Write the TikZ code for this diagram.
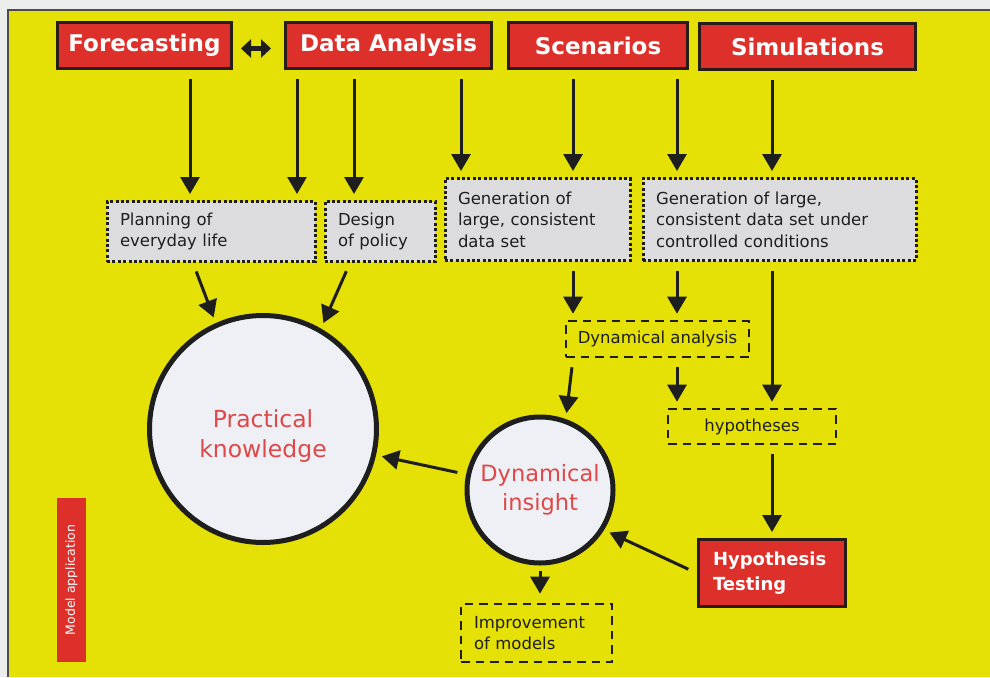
\documentclass[tikz,border=0pt]{standalone}
\usepackage{fontspec}
\setmainfont{DejaVu Sans}
\usetikzlibrary{arrows.meta}
\definecolor{bgyel}{RGB}{229,224,6}
\definecolor{outergray}{RGB}{236,238,238}
\definecolor{boxred}{RGB}{222,48,42}
\definecolor{boxedge}{RGB}{40,28,24}
\definecolor{boxgray}{RGB}{220,220,222}
\definecolor{circfill}{RGB}{238,240,245}
\definecolor{circred}{RGB}{222,72,72}
\definecolor{ink}{RGB}{30,30,30}
\begin{document}
\begin{tikzpicture}[x=1pt,y=-1pt,
  redbox/.style={draw=boxedge, line width=3pt, fill=boxred, text=white, font=\bfseries\fontsize{23}{27}\selectfont, inner sep=0pt},
  graybox/.style={draw=ink, fill=boxgray, line width=3pt, dash pattern=on 3pt off 2.4pt, align=left, inner xsep=13pt, inner ysep=0pt, font=\fontsize{16.5}{21.5}\selectfont, text=ink},
  dashbox/.style={draw=ink, line width=2.6pt, dash pattern=on 8.5pt off 6pt, font=\fontsize{16.5}{21.5}\selectfont, text=ink, inner sep=0pt},
  bigcirc/.style={circle, draw=ink, line width=5pt, fill=circfill, text=circred, align=center, inner sep=0pt},
  arr/.style={draw=ink, line width=3pt, -{Triangle[length=17pt,width=19pt]}, shorten <=9pt, shorten >=6pt}
]
\useasboundingbox (0,0) rectangle (990,677);
\fill[outergray] (0,0) rectangle (990,677);
\fill[bgyel] (8,10) rectangle (990,677);
\draw[gray!60!black, line width=1.2pt] (8,677) -- (8,10) -- (990,10);

% top red boxes
\node[redbox, minimum width=174, minimum height=46] (fc) at (144.5,45.5) {Forecasting};
\node[redbox, minimum width=206, minimum height=46] (da) at (388.5,45.5) {Data Analysis};
\node[redbox, minimum width=179, minimum height=46] (sc) at (598,45.5) {Scenarios};
\node[redbox, minimum width=216, minimum height=46] (si) at (807.5,46.5) {Simulations};

\draw[ink, line width=5.5pt, {Triangle[length=10pt,width=18pt]}-{Triangle[length=10pt,width=18pt]}]
  ([xshift=8pt,yshift=-3pt]fc.east) -- ([xshift=-13pt,yshift=-3pt]da.west);

% gray dotted boxes
\node[graybox, text width=182, minimum height=60] (plan) at (211,231.5) {Planning of\\everyday life};
\node[graybox, text width=84, minimum height=60] (design) at (380,231.5) {Design\\of policy};
\node[graybox, text width=159, minimum height=82] (gen1) at (537.5,219.5) {Generation of\\large, consistent\\data set};
\node[graybox, text width=247, minimum height=82] (gen2) at (779.5,219.5) {Generation of large,\\consistent data set under\\controlled conditions};

% dashed boxes
\node[dashbox, minimum width=183, minimum height=36] (dynan) at (657.5,339) {Dynamical analysis};
\node[dashbox, minimum width=168, minimum height=35] (hyp) at (752,426.5) {hypotheses};
\node[dashbox, align=left, text width=125, inner xsep=13pt, minimum height=58] (impr) at (536.5,633) {Improvement\\of models};

% hypothesis testing
\node[redbox, font=\bfseries\fontsize{18}{25}\selectfont, align=left, text width=117, inner xsep=15pt, minimum height=67] (ht) at (771.5,573) {Hypothesis\\Testing};

% circles
\node[bigcirc, minimum size=227, font=\fontsize{23.5}{30}\selectfont] (prac) at (263,429) {\raisebox{-7pt}[\height][\depth]{\begin{tabular}{@{}c@{}}Practical\\knowledge\end{tabular}}};
\node[bigcirc, minimum size=146, font=\fontsize{22.5}{29}\selectfont] (ins) at (540,490) {Dynamical\\insight};

% side label
\node[fill=boxred, text=white, rotate=90, minimum width=164, minimum height=29, inner sep=0pt, font=\fontsize{12.5}{14}\selectfont] (ma) at (71.5,580) {Model application};

% arrows
\draw[arr] (fc.south -| 190,0) -- (plan.north -| 190,0);
\draw[arr] (da.south -| 297,0) -- (plan.north -| 297,0);
\draw[arr] (da.south -| 354,0) -- (design.north -| 354,0);
\draw[arr] (da.south -| 461,0) -- (gen1.north -| 461,0);
\draw[arr] (sc.south -| 573,0) -- (gen1.north -| 573,0);
\draw[arr] (sc.south -| 677,0) -- (gen2.north -| 677,0);
\draw[arr] (si.south -| 772,0) -- (gen2.north -| 772,0);
\draw[arr] (plan.south -| 193,0) -- (prac.114);
\draw[arr] (design.south -| 350,0) -- (prac.60);
\draw[arr] (gen1.south -| 573,0) -- (dynan.north -| 573,0);
\draw[arr] (gen2.south -| 677,0) -- (dynan.north -| 677,0);
\draw[arr] (gen2.south -| 772,0) -- (hyp.north -| 772,0);
\draw[arr] (dynan.south -| 677,0) -- (hyp.north -| 677,0);
\draw[arr] (dynan.south -| 573,0) -- (ins.70);
\draw[arr] (hyp.south -| 772,0) -- (ht.north -| 772,0);
\draw[arr] (ht.west) -- (ins.-32);
\draw[arr] (ins.168) -- (prac.-13);
\draw[arr, shorten <=5pt, shorten >=9pt] (ins.south) -- (impr.north -| ins.south);
\end{tikzpicture}
\end{document}
